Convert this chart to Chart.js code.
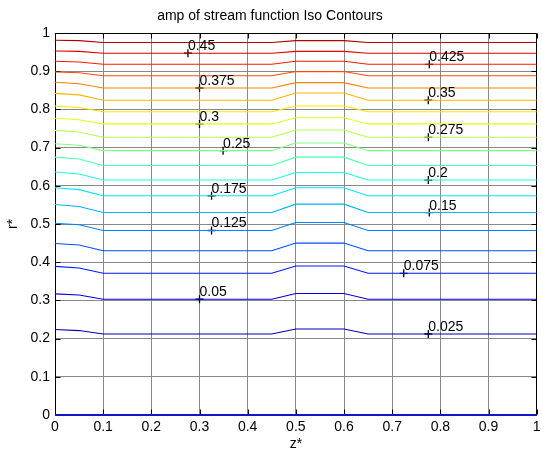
<!DOCTYPE html>
<html>
<head>
<meta charset="utf-8">
<script src="https://cdn.jsdelivr.net/npm/chart.js@4/dist/chart.umd.min.js"></script>
<style>
  html, body { margin: 0; padding: 0; background: #fff; }
  canvas { display: block; }
</style>
</head>
<body>
<canvas id="c" width="542" height="455"></canvas>
<script>
// Iso-levels of the stream-function amplitude
const levels = [0, 0.025, 0.05, 0.075, 0.1, 0.125, 0.15, 0.175, 0.2, 0.225,
                0.25, 0.275, 0.3, 0.325, 0.35, 0.375, 0.4, 0.425, 0.45, 0.475];

// z* positions of the bends of every iso-line
const zBreaks = [0, 0.05, 0.1, 0.45, 0.5, 0.6, 0.65, 1];

// r* of each level at z*=0
const rInlet = [0, 0.224, 0.317, 0.389, 0.449, 0.502, 0.551, 0.595, 0.636, 0.675,
                0.710, 0.745, 0.777, 0.809, 0.842, 0.871, 0.898, 0.926, 0.953, 0.981];
// r* of each level at z*=0.05
const rNear = [0, 0.221, 0.314, 0.385, 0.445, 0.498, 0.546, 0.590, 0.631, 0.670,
               0.706, 0.741, 0.773, 0.805, 0.838, 0.867, 0.896, 0.924, 0.952, 0.980];
// r* of each level on the flat sections (0.1-0.45 and 0.65-1)
const rFlat = [0, 0.212, 0.303, 0.371, 0.430, 0.483, 0.530, 0.574, 0.615, 0.653,
               0.692, 0.727, 0.762, 0.794, 0.824, 0.856, 0.888, 0.918, 0.947, 0.975];
// r* of each level on the raised middle section (0.5-0.6)
const rMid = [0, 0.225, 0.318, 0.390, 0.450, 0.504, 0.552, 0.595, 0.635, 0.675,
              0.712, 0.746, 0.778, 0.809, 0.843, 0.870, 0.899, 0.926, 0.952, 0.980];

// in-line contour labels: level and the z* where it sits
const labelLevels = [0.45, 0.425, 0.375, 0.35, 0.3, 0.275, 0.25, 0.2, 0.175, 0.15, 0.125, 0.075, 0.05, 0.025];
const labelZ = [0.276, 0.777, 0.300, 0.775, 0.300, 0.775, 0.349, 0.775, 0.325, 0.777, 0.325, 0.724, 0.300, 0.775];

// axis ticks
const zTicks = [0, 0.1, 0.2, 0.3, 0.4, 0.5, 0.6, 0.7, 0.8, 0.9, 1];
const rTicks = [0, 0.1, 0.2, 0.3, 0.4, 0.5, 0.6, 0.7, 0.8, 0.9, 1];

// jet colormap over the level range
function jet(t) {
  const c = v => Math.round(255 * Math.max(0, Math.min(1, v)));
  return `rgb(${c(1.5 - Math.abs(4 * t - 3))},${c(1.5 - Math.abs(4 * t - 2))},${c(1.5 - Math.abs(4 * t - 1))})`;
}

const profiles = levels.map((lv, i) => [rInlet[i], rNear[i], rFlat[i], rFlat[i], rMid[i], rMid[i], rFlat[i], rFlat[i]]);

const lineSets = levels.map((lv, i) => ({
  type: 'line',
  label: String(lv),
  data: zBreaks.map((z, k) => ({ x: z, y: profiles[i][k] })),
  borderColor: i === 0 ? 'rgb(20,20,200)' : jet(lv / 0.5),
  borderWidth: i === 0 ? 2.2 : 1.1,
  pointRadius: 0,
  tension: 0,
  fill: false,
  clip: 3
}));

const markerSet = {
  type: 'scatter',
  label: 'labels',
  data: labelLevels.map((lv, j) => ({ x: labelZ[j], y: rFlat[levels.indexOf(lv)], text: String(lv) })),
  pointStyle: 'cross',
  pointRadius: 4,
  borderColor: '#000',
  borderWidth: 1.3,
  clip: false
};

Chart.defaults.font.family = "'Liberation Sans', Arial, sans-serif";
Chart.defaults.font.size = 14;
Chart.defaults.color = '#000';

// frame with inward tick marks under the iso-lines, contour label text on top
const framePlugin = {
  id: 'frame',
  beforeDatasetsDraw(chart) {
    const { ctx, chartArea: a, scales } = chart;
    ctx.save();
    ctx.strokeStyle = '#000';
    ctx.lineWidth = 1;
    const L = Math.round(a.left) + 0.5, R = Math.round(a.right) - 0.5;
    const T = Math.round(a.top) + 0.5, B = Math.round(a.bottom) - 0.5;
    ctx.beginPath();
    ctx.rect(L, T, R - L, B - T);
    const len = 5;
    zTicks.forEach(v => {
      const x = Math.round(scales.x.getPixelForValue(v)) + 0.5;
      ctx.moveTo(x, B); ctx.lineTo(x, B - len);
      ctx.moveTo(x, T); ctx.lineTo(x, T + len);
    });
    rTicks.forEach(v => {
      const y = Math.round(scales.y.getPixelForValue(v)) + 0.5;
      ctx.moveTo(L, y); ctx.lineTo(L + len, y);
      ctx.moveTo(R, y); ctx.lineTo(R - len, y);
    });
    ctx.stroke();
    ctx.restore();
  },
  afterDatasetsDraw(chart) {
    const { ctx } = chart;
    ctx.save();
    const meta = chart.getDatasetMeta(chart.data.datasets.length - 1);
    ctx.fillStyle = '#000';
    ctx.font = "14px 'Liberation Sans', Arial, sans-serif";
    ctx.textAlign = 'left';
    ctx.textBaseline = 'alphabetic';
    meta.data.forEach((pt, j) => {
      const d = chart.data.datasets[meta.index].data[j];
      ctx.fillText(d.text, pt.x, pt.y - 3);
    });
    ctx.restore();
  }
};

new Chart(document.getElementById('c'), {
  data: { datasets: [...lineSets, markerSet] },
  options: {
    responsive: false,
    devicePixelRatio: 1,
    animation: false,
    layout: { padding: { left: 0, right: 2, top: 0, bottom: 0 } },
    plugins: {
      legend: { display: false },
      tooltip: { enabled: false },
      title: {
        display: true,
        text: 'amp of stream function Iso Contours',
        font: { size: 14, weight: 'normal' },
        color: '#000',
        padding: { top: 8, bottom: 8.2 }
      }
    },
    scales: {
      x: {
        type: 'linear',
        min: 0, max: 1,
        afterBuildTicks: s => { s.ticks = zTicks.map(v => ({ value: v })); },
        afterFit: s => { s.height = 40; s.paddingLeft = 0; s.paddingRight = 0; },
        ticks: { autoSkip: false, maxRotation: 0, padding: 4, callback: v => String(v) },
        grid: { color: '#888888', lineWidth: 1, drawTicks: false },
        border: { display: false },
        title: { display: true, text: 'z*', font: { size: 14 }, padding: { top: 0, bottom: 2 } }
      },
      y: {
        type: 'linear',
        min: 0, max: 1,
        afterBuildTicks: s => { s.ticks = rTicks.map(v => ({ value: v })); },
        afterFit: s => { s.width = 55; s.paddingTop = 0; s.paddingBottom = 0; },
        ticks: { autoSkip: false, padding: 5, callback: v => String(v) },
        grid: { color: '#888888', lineWidth: 1, drawTicks: false },
        border: { display: false },
        title: { display: true, text: 'r*', font: { size: 14 }, padding: { top: 5, bottom: 0 } }
      }
    }
  },
  plugins: [framePlugin]
});
</script>
</body>
</html>
